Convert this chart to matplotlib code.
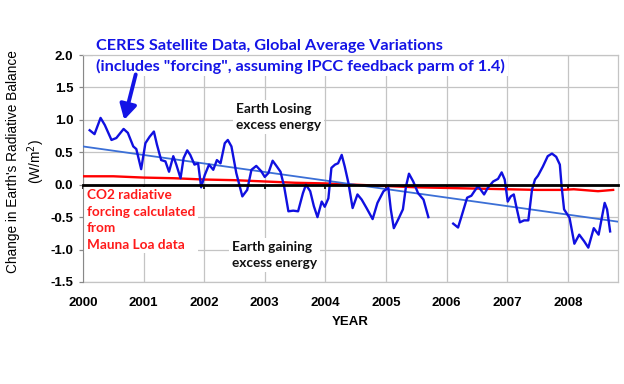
import matplotlib
matplotlib.use("Agg")
import matplotlib.pyplot as plt
import numpy as np

# CERES global average variations (smoothed)
ceres_years_a = [2000.11, 2000.19, 2000.29, 2000.36, 2000.47, 2000.55, 2000.67, 2000.74,
                 2000.83, 2000.88, 2000.96, 2001.03, 2001.10, 2001.17, 2001.22, 2001.29,
                 2001.36, 2001.42, 2001.49, 2001.54, 2001.61, 2001.66, 2001.72, 2001.77,
                 2001.84, 2001.90, 2001.95, 2002.01, 2002.08, 2002.15, 2002.21, 2002.27,
                 2002.34, 2002.39, 2002.45, 2002.53, 2002.63, 2002.71, 2002.78, 2002.86,
                 2002.94, 2003.00, 2003.06, 2003.13, 2003.20, 2003.26, 2003.32, 2003.39,
                 2003.47, 2003.55, 2003.63, 2003.68, 2003.75, 2003.81, 2003.87, 2003.94,
                 2003.99, 2004.05, 2004.10, 2004.16, 2004.21, 2004.27, 2004.32, 2004.38,
                 2004.45, 2004.53, 2004.60, 2004.68, 2004.78, 2004.86, 2004.96, 2005.04,
                 2005.08, 2005.13, 2005.20, 2005.28, 2005.33, 2005.38, 2005.45, 2005.53,
                 2005.62, 2005.70]
ceres_vals_a = [0.84, 0.78, 1.03, 0.92, 0.69, 0.72, 0.86, 0.80,
                0.59, 0.55, 0.24, 0.64, 0.74, 0.82, 0.62, 0.38,
                0.36, 0.20, 0.44, 0.31, 0.10, 0.41, 0.53, 0.46,
                0.31, 0.33, -0.04, 0.15, 0.31, 0.23, 0.38, 0.33,
                0.64, 0.69, 0.59, 0.18, -0.18, -0.08, 0.23, 0.29,
                0.21, 0.12, 0.18, 0.37, 0.28, 0.20, -0.03, -0.41,
                -0.40, -0.41, -0.13, 0.00, -0.10, -0.33, -0.50, -0.26,
                -0.34, -0.21, 0.26, 0.31, 0.33, 0.46, 0.28, 0.03,
                -0.36, -0.15, -0.23, -0.36, -0.53, -0.28, -0.10, -0.05,
                -0.38, -0.67, -0.54, -0.38, -0.03, 0.17, 0.05, -0.13,
                -0.23, -0.50]

ceres_years_b = [2006.11, 2006.19, 2006.24, 2006.34, 2006.41, 2006.46, 2006.52, 2006.62,
                 2006.68, 2006.77, 2006.85, 2006.91, 2006.96, 2007.01, 2007.06, 2007.11,
                 2007.15, 2007.21, 2007.28, 2007.35, 2007.41, 2007.46, 2007.51, 2007.59,
                 2007.67, 2007.74, 2007.81, 2007.87, 2007.90, 2007.94, 2008.03, 2008.11,
                 2008.19, 2008.27, 2008.34, 2008.43, 2008.51, 2008.61, 2008.65, 2008.70]
ceres_vals_b = [-0.60, -0.66, -0.51, -0.20, -0.17, -0.10, -0.02, -0.15,
                -0.05, 0.05, 0.09, 0.19, 0.08, -0.26, -0.18, -0.15,
                -0.33, -0.58, -0.55, -0.55, -0.08, 0.08, 0.14, 0.28,
                0.44, 0.48, 0.43, 0.31, -0.03, -0.38, -0.51, -0.91,
                -0.77, -0.87, -0.97, -0.67, -0.77, -0.28, -0.38, -0.72]

# linear trend of the CERES data
trend_years = [2000.0, 2008.83]
trend_vals = [0.59, -0.57]

# CO2 radiative forcing from Mauna Loa data
co2_years = [2000.0, 2000.5, 2001.0, 2001.5, 2002.0, 2002.5, 2003.0, 2003.5, 2004.0,
             2004.5, 2005.0, 2005.5, 2006.0, 2006.5, 2007.0, 2007.5, 2007.9, 2008.1,
             2008.5, 2008.75]
co2_vals = [0.13, 0.13, 0.11, 0.10, 0.08, 0.07, 0.05, 0.03, 0.02,
            0.00, -0.02, -0.04, -0.05, -0.06, -0.07, -0.08, -0.08, -0.07,
            -0.10, -0.08]

year_ticks = list(range(2000, 2009))
y_ticks = [-1.5, -1.0, -0.5, 0.0, 0.5, 1.0, 1.5, 2.0]

plt.rcParams['axes.unicode_minus'] = False
plt.rcParams['font.family'] = ['Liberation Sans', 'DejaVu Sans']

W, H = 624, 384
fig = plt.figure(figsize=(W / 100, H / 100), dpi=100)
ax = fig.add_axes([83 / W, 1 - 282 / H, (618 - 83) / W, (282 - 55) / H])


def px(x, y):
    # pixel position -> figure fraction
    return x / W, 1 - y / H


ax.set_xlim(2000, 2008.83)
ax.set_ylim(-1.5, 2.0)
ax.set_xticks(year_ticks)
ax.set_yticks(y_ticks)
ax.set_yticklabels([f'{t:.1f}' for t in y_ticks], fontsize=9.5, fontweight='bold')
ax.grid(True, color='#c4c4c4', linewidth=0.9)
ax.set_axisbelow(True)

# x axis crosses at zero (black, with ticks); labels live on a secondary axis at the bottom
ax.spines['bottom'].set_position(('data', 0))
ax.spines['bottom'].set_color('black')
ax.spines['bottom'].set_linewidth(2.0)
ax.spines['bottom'].set_zorder(3.5)
ax.tick_params(axis='x', direction='out', length=3, width=1.2, color='black',
               labelbottom=False)
ax.tick_params(axis='y', direction='out', length=3, width=0.9, color='#888888', pad=4)
ax.spines['left'].set_color('#888888')
for s in ['top', 'right']:
    ax.spines[s].set_color('#c4c4c4')
    ax.spines[s].set_linewidth(0.9)

sec = ax.secondary_xaxis('bottom')
sec.set_xticks(year_ticks)
sec.set_xticklabels([str(y) for y in year_ticks], fontsize=9.5, fontweight='bold')
sec.tick_params(length=0, pad=11)
sec.spines['bottom'].set_color('#c4c4c4')
sec.spines['bottom'].set_linewidth(0.9)
sec.set_xlabel('YEAR', fontsize=9.5, fontweight='bold', labelpad=5)

ax.set_ylabel("Change in Earth's Radiative Balance\n(W/m$^2$)", fontsize=9.8,
              linespacing=1.3)
ax.yaxis.set_label_coords(-0.068, 0.53)

# data
ax.plot(co2_years, co2_vals, color='#ff0000', lw=1.7, zorder=3)
ax.plot(trend_years, trend_vals, color='#3b6fd6', lw=1.3, zorder=3.2)
ax.plot(ceres_years_a, ceres_vals_a, color='#1010e0', lw=1.7, zorder=3.3,
        solid_joinstyle='round')
ax.plot(ceres_years_b, ceres_vals_b, color='#1010e0', lw=1.7, zorder=3.3,
        solid_joinstyle='round')

box = dict(facecolor='white', edgecolor='none', pad=2)
title_font = ['Lato', 'DejaVu Sans']

ax.text(*px(96, 46), 'CERES Satellite Data, Global Average Variations',
        transform=fig.transFigure, ha='left', va='center', fontsize=11.7,
        fontweight='bold', color='#1414e6', family=title_font, bbox=box, zorder=2.5)
ax.text(*px(96, 66), '(includes "forcing", assuming IPCC feedback parm of 1.4)',
        transform=fig.transFigure, ha='left', va='center', fontsize=11.7,
        fontweight='bold', color='#1414e6', family=title_font, bbox=box, zorder=2.5)

ax.text(*px(236, 117), 'Earth Losing\nexcess energy', transform=fig.transFigure,
        ha='left', va='center', fontsize=9.8, fontweight='bold', color='#111111',
        family=title_font, linespacing=1.45, bbox=box, zorder=2.5)
ax.text(*px(232, 255), 'Earth gaining\nexcess energy', transform=fig.transFigure,
        ha='left', va='center', fontsize=9.8, fontweight='bold', color='#111111',
        family=title_font, linespacing=1.45, bbox=box, zorder=2.5)
ax.text(*px(87, 220), 'CO2 radiative\nforcing calculated\nfrom\nMauna Loa data',
        transform=fig.transFigure, ha='left', va='center', fontsize=9.8,
        fontweight='bold', color='#ff1a1a', family=title_font, linespacing=1.45,
        bbox=box, zorder=2.5)

ax.annotate('', xy=(2000.68, 1.0), xytext=(2000.87, 1.70),
            arrowprops=dict(arrowstyle='-|>,head_length=0.5,head_width=0.28',
                            color='#1414e6', lw=2.8, mutation_scale=18,
                            shrinkA=0, shrinkB=0),
            annotation_clip=False, zorder=4)

fig.savefig('out.png', dpi=100, facecolor='white')
